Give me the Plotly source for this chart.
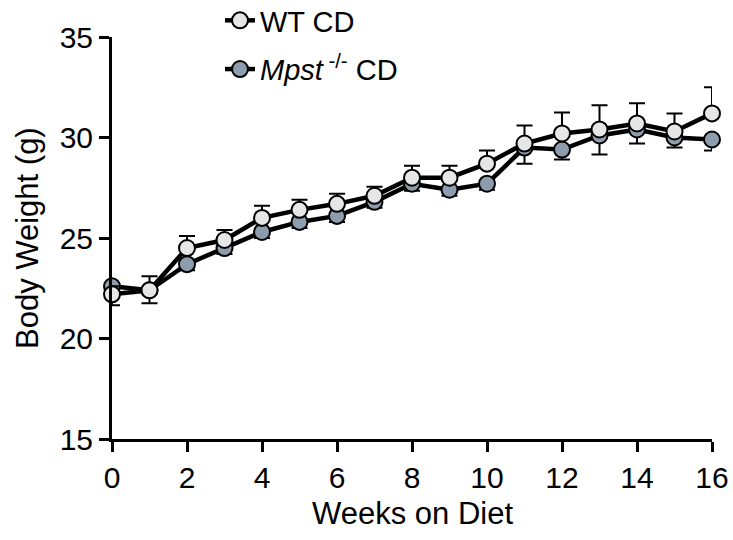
import plotly.graph_objects as go

weeks = list(range(17))
wt_mean = [22.2, 22.4, 24.5, 24.9, 26.0, 26.4, 26.7, 27.1, 28.0, 28.0, 28.7, 29.7, 30.2, 30.4, 30.7, 30.3, 31.2]
wt_err = [0.4, 0.7, 0.6, 0.5, 0.6, 0.5, 0.5, 0.45, 0.6, 0.6, 0.65, 0.9, 1.05, 1.2, 1.0, 0.9, 1.3]
ko_mean = [22.6, 22.4, 23.7, 24.5, 25.3, 25.8, 26.1, 26.8, 27.7, 27.4, 27.7, 29.5, 29.4, 30.1, 30.4, 30.0, 29.9]
ko_err = [0.95, 0.65, 0.3, 0.3, 0.3, 0.3, 0.3, 0.3, 0.35, 0.3, 0.3, 0.8, 0.5, 0.95, 0.7, 0.5, 0.55]
x_ticks = [0, 2, 4, 6, 8, 10, 12, 14, 16]
y_ticks = [15, 20, 25, 30, 35]

FONT = "Liberation Sans, Arial, sans-serif"
zeros = [0] * len(weeks)

fig = go.Figure()
fig.add_trace(go.Scatter(
    x=weeks, y=ko_mean, mode="lines+markers",
    name="<i>Mpst</i><sup> -/-</sup> CD",
    legendgroup="ko", legendrank=2,
    line=dict(color="black", width=4.5),
    marker=dict(symbol="circle", size=16, color="#8E9DAE", line=dict(color="black", width=2)),
    error_y=dict(type="data", symmetric=False, array=zeros, arrayminus=ko_err,
                 color="black", thickness=2, width=8),
    cliponaxis=False,
))
fig.add_trace(go.Scatter(
    x=weeks, y=wt_mean, mode="lines+markers",
    name="WT CD",
    legendgroup="wt", legendrank=1,
    line=dict(color="black", width=4.5),
    marker=dict(symbol="circle", size=16, color="#E6E6E6", line=dict(color="black", width=2)),
    error_y=dict(type="data", symmetric=False, array=wt_err, arrayminus=zeros,
                 color="black", thickness=2, width=8),
    cliponaxis=False,
))

axis_common = dict(
    showline=True, linecolor="black", linewidth=3,
    ticks="outside", ticklen=10, tickwidth=3, tickcolor="black",
    showgrid=False, zeroline=False, mirror=False,
    tickfont=dict(family=FONT, size=30, color="black"),
)

fig.update_layout(
    width=733, height=540,
    margin=dict(l=112, r=21, t=37, b=101, autoexpand=False),
    plot_bgcolor="white", paper_bgcolor="white",
    font=dict(family=FONT, color="black"),
    xaxis=dict(range=[0, 16], tickvals=x_ticks, **axis_common),
    yaxis=dict(range=[15, 35], tickvals=y_ticks, **axis_common),
    showlegend=True,
    legend=dict(x=0.18, y=1.1045, xanchor="left", yanchor="top",
                traceorder="grouped", tracegroupgap=8,
                bgcolor="rgba(0,0,0,0)",
                font=dict(family=FONT, size=29, color="black")),
    annotations=[
        dict(text="Weeks on Diet", xref="paper", yref="paper", x=0.5, y=0,
             yshift=-74, xanchor="center", yanchor="middle", showarrow=False,
             font=dict(family=FONT, size=31, color="black")),
        dict(text="Body Weight (g)", xref="paper", yref="paper", x=0, y=0.5,
             xshift=-85, xanchor="center", yanchor="middle", showarrow=False, textangle=-90,
             font=dict(family=FONT, size=31, color="black")),
    ],
)

fig.write_html("out.html", config={"displayModeBar": False},
               post_script="document.body.style.margin='0';")
